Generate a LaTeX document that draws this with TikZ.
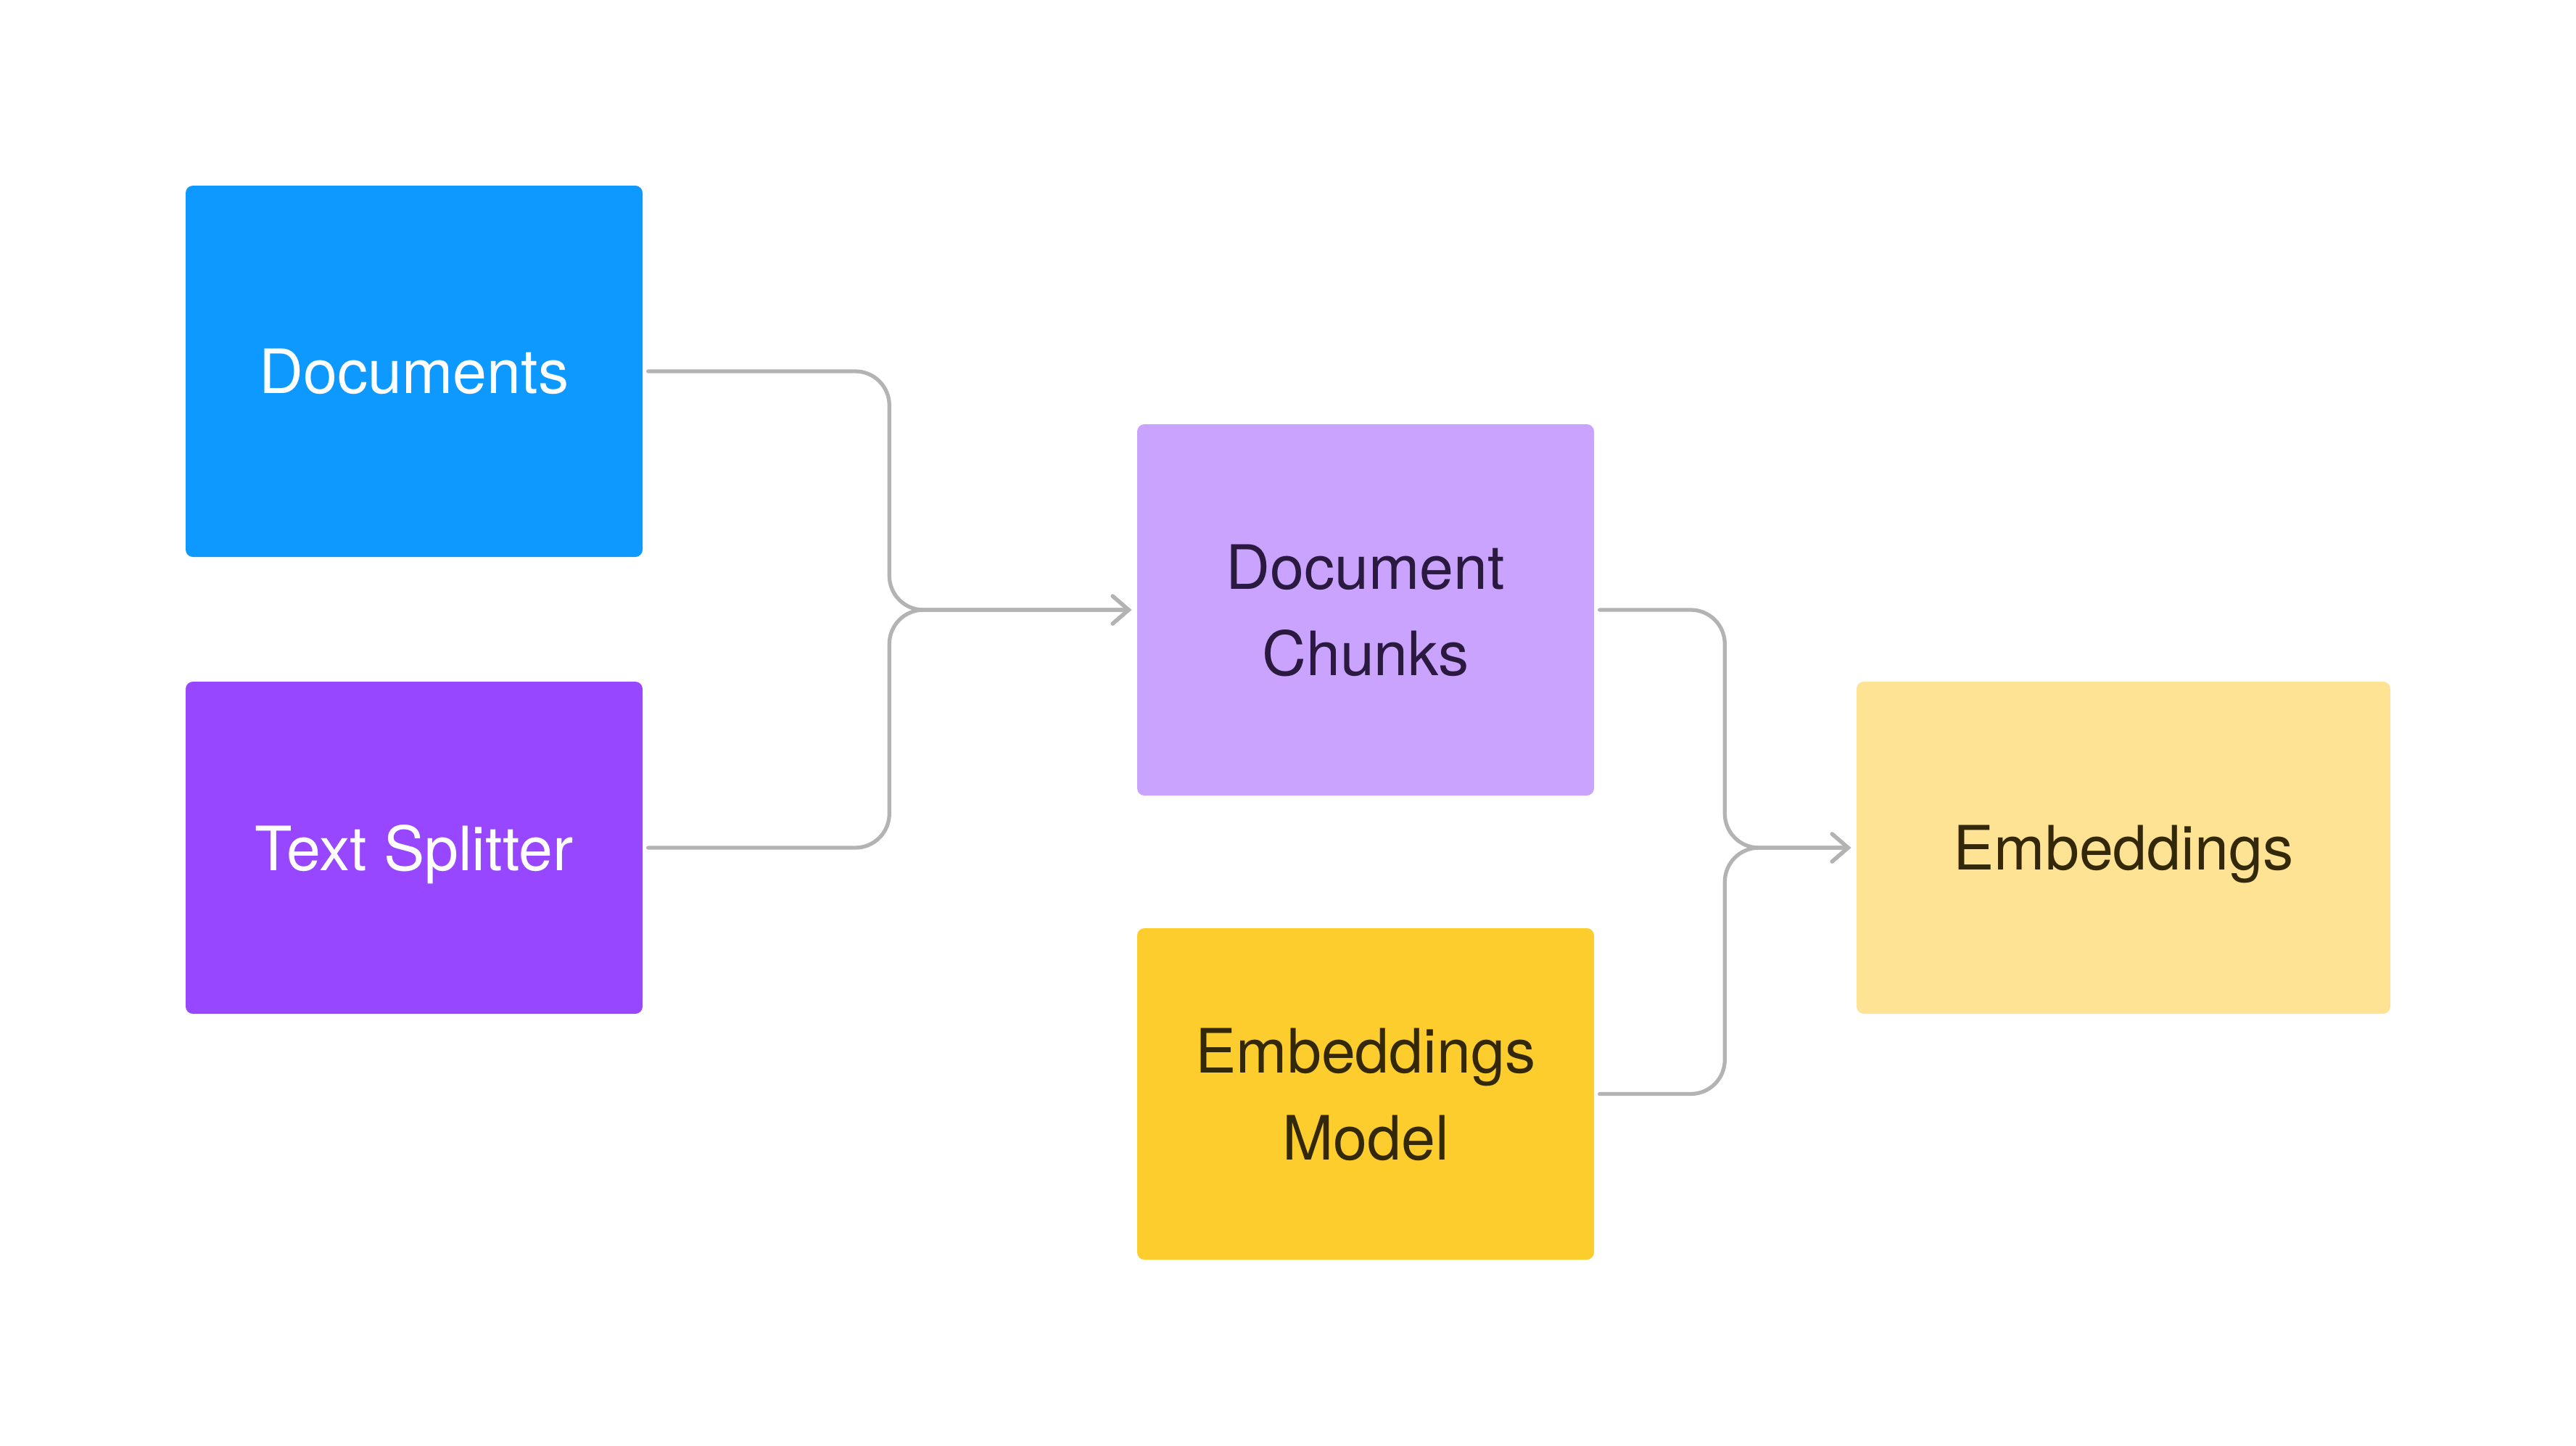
\documentclass[tikz,border=0pt]{standalone}
\usepackage{fontspec}
\setmainfont{TeX Gyre Heros}
\usetikzlibrary{positioning,arrows.meta}
\definecolor{docblue}{HTML}{0D99FF}
\definecolor{splitpurple}{HTML}{9747FF}
\definecolor{chunklilac}{HTML}{C9A3FE}
\definecolor{modelyellow}{HTML}{FCCD2C}
\definecolor{embyellow}{HTML}{FEE394}
\definecolor{linegray}{HTML}{B3B3B3}
\definecolor{chunktext}{HTML}{2B1A3F}
\definecolor{yellowtext}{HTML}{33290A}
\begin{document}
\begin{tikzpicture}[
					box/.style = {rectangle, rounded corners=0.1cm, inner sep=0pt, align=center, text depth=0pt, font=\fontsize{24}{34}\selectfont},
					conn/.style = {draw=linegray, line width=1.5pt, line cap=round, rounded corners=0.47cm, shorten <=0.07cm, shorten >=0.07cm},
					arr/.style = {-{Straight Barb[length=0.22cm,width=0.38cm,line cap=round]}}
				]

					\useasboundingbox (0,0) rectangle (35.52,-19.94);

					\node[box, fill=docblue, text=white, minimum width=6.30cm, minimum height=5.12cm] (docs) at (5.71,-5.12) {Documents};
					\node[box, fill=splitpurple, text=white, minimum width=6.30cm, minimum height=4.58cm] (split) at (5.71,-11.69) {Text Splitter};
					\node[box, fill=chunklilac, text=chunktext, minimum width=6.30cm, minimum height=5.12cm] (chunks) at (18.83,-8.41) {Document\\Chunks};
					\node[box, fill=modelyellow, text=yellowtext, minimum width=6.30cm, minimum height=4.57cm] (model) at (18.83,-15.085) {Embeddings\\Model};
					\node[box, fill=embyellow, text=yellowtext, minimum width=7.36cm, minimum height=4.58cm] (emb) at (29.28,-11.69) {Embeddings};

					\coordinate[left=3.41cm of chunks.west] (m1);
					\coordinate[left=1.81cm of emb.west] (m2);

					\draw[conn,arr] (docs.east) -| (m1) -- (chunks.west);
					\draw[conn,arr] (split.east) -| (m1) -- (chunks.west);
					\draw[conn,arr] (chunks.east) -| (m2) -- (emb.west);
					\draw[conn,arr] (model.east) -| (m2) -- (emb.west);

				\end{tikzpicture}
\end{document}
